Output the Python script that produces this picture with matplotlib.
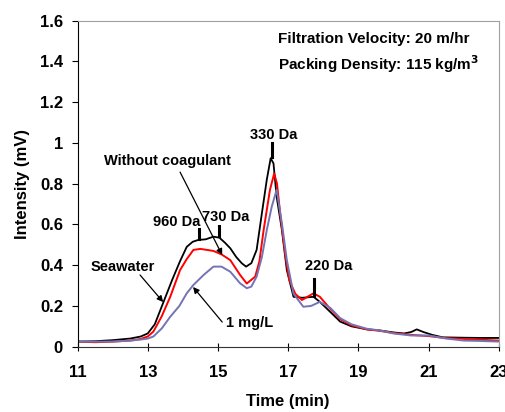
import matplotlib
matplotlib.use("Agg")
import matplotlib.pyplot as plt

plt.rcParams['font.family'] = ['Liberation Sans', 'DejaVu Sans']
plt.rcParams['font.weight'] = 'bold'

# seawater (black)
t_sea = [11, 11.5, 12, 12.5, 12.8, 13.0, 13.2, 13.45, 13.7, 13.92, 14.11, 14.28, 14.44,
         14.65, 14.87, 15.04, 15.2, 15.35, 15.52, 15.68, 15.8, 15.95, 16.1, 16.25, 16.39,
         16.5, 16.58, 16.67, 16.82, 16.96, 17.15, 17.4, 17.72, 17.9, 18.2, 18.48, 18.8,
         19.24, 19.6, 20.0, 20.3, 20.5, 20.66, 20.85, 21.1, 21.4, 22.0, 22.5, 23.0]
v_sea = [0.025, 0.027, 0.032, 0.04, 0.05, 0.065, 0.11, 0.22, 0.33, 0.42, 0.49, 0.515, 0.524,
         0.527, 0.54, 0.535, 0.51, 0.483, 0.44, 0.409, 0.393, 0.41, 0.475, 0.655, 0.82,
         0.925, 0.9, 0.736, 0.573, 0.376, 0.245, 0.24, 0.245, 0.22, 0.17, 0.123, 0.1,
         0.085, 0.08, 0.07, 0.065, 0.072, 0.085, 0.072, 0.058, 0.046, 0.044, 0.043, 0.043]

# without coagulant (red)
t_nocoag = [11, 11.5, 12, 12.5, 12.8, 13.0, 13.16, 13.4, 13.64, 13.92, 14.11, 14.3, 14.5,
            14.87, 15.1, 15.35, 15.63, 15.82, 16.06, 16.18, 16.3, 16.48, 16.6, 16.68, 16.77,
            16.91, 17.03, 17.2, 17.39, 17.55, 17.72, 17.9, 18.2, 18.48, 18.8, 19.24, 19.6,
            20.0, 20.5, 21.0, 21.5, 22.0, 22.5, 23.0]
v_nocoag = [0.025, 0.022, 0.025, 0.03, 0.038, 0.05, 0.074, 0.15, 0.245, 0.376, 0.43, 0.475, 0.48,
            0.47, 0.453, 0.425, 0.352, 0.31, 0.344, 0.42, 0.573, 0.77, 0.85, 0.8, 0.655,
            0.458, 0.327, 0.26, 0.229, 0.245, 0.262, 0.245, 0.185, 0.135, 0.105, 0.085, 0.078,
            0.067, 0.058, 0.052, 0.042, 0.038, 0.034, 0.03]

# 1 mg/L (blue)
t_1mg = [11, 11.5, 12, 12.5, 12.8, 13.0, 13.16, 13.4, 13.64, 13.9, 14.11, 14.3, 14.59,
         14.87, 15.1, 15.35, 15.63, 15.82, 15.95, 16.1, 16.25, 16.39, 16.53, 16.67, 16.82,
         16.96, 17.15, 17.43, 17.65, 17.9, 18.2, 18.48, 18.8, 19.24, 19.6, 20.0, 20.5,
         21.0, 21.5, 22.0, 22.5, 23.0]
v_1mg = [0.025, 0.025, 0.025, 0.03, 0.035, 0.04, 0.05, 0.09, 0.147, 0.2, 0.262, 0.303, 0.352,
         0.393, 0.393, 0.368, 0.311, 0.287, 0.295, 0.344, 0.44, 0.573, 0.687, 0.77, 0.605,
         0.425, 0.26, 0.196, 0.2, 0.22, 0.19, 0.14, 0.11, 0.088, 0.08, 0.065, 0.055,
         0.055, 0.04, 0.03, 0.028, 0.025]

# peak labels: text, marker time, marker bottom, marker top, text x, text y
peak_names = ['960 Da', '730 Da', '330 Da', '220 Da']
peak_t = [14.45, 15.04, 16.53, 17.72]
peak_lo = [0.53, 0.545, 0.93, 0.25]
peak_hi = [0.58, 0.59, 1.0, 0.33]
peak_tx = [13.81, 15.23, 16.6, 18.16]
peak_ty = [0.612, 0.637, 1.04, 0.397]

fig = plt.figure(figsize=(5.05, 4.12), dpi=100)
ax = fig.add_axes([0.1535, 0.1585, 0.8345, 0.7913])

ax.plot(t_sea, v_sea, color='black', lw=1.3)
ax.plot(t_nocoag, v_nocoag, color='#ff0000', lw=1.4)
ax.plot(t_1mg, v_1mg, color='#7474b4', lw=1.4)

fs = 10.5
for i in range(len(peak_names)):
    ax.plot([peak_t[i], peak_t[i]], [peak_lo[i], peak_hi[i]], color='black', lw=2.2)
    ax.text(peak_tx[i], peak_ty[i], peak_names[i], ha='center', va='center',
            fontsize=fs, fontweight='bold')

arrow = dict(arrowstyle='-|>', color='black', lw=0.9, mutation_scale=9, shrinkA=0, shrinkB=0)
ax.text(13.55, 0.91, 'Without coagulant', ha='center', va='center', fontsize=fs, fontweight='bold')
ax.annotate('', xy=(15.12, 0.45), xytext=(13.92, 0.857), arrowprops=arrow)
ax.text(12.30, 0.391, 'Seawater', ha='center', va='center', fontsize=fs, fontweight='bold')
ax.annotate('', xy=(13.44, 0.219), xytext=(12.78, 0.352), arrowprops=arrow)
ax.text(15.89, 0.116, '1 mg/L', ha='center', va='center', fontsize=fs, fontweight='bold')
ax.annotate('', xy=(14.29, 0.293), xytext=(15.12, 0.121), arrowprops=arrow)

ax.text(0.476, 0.944, 'Filtration Velocity: 20 m/hr', transform=ax.transAxes,
        ha='left', va='center', fontsize=11, fontweight='bold')
ax.text(0.476, 0.867, 'Packing Density: 115 kg/m$^{\\mathbf{3}}$', transform=ax.transAxes,
        ha='left', va='center', fontsize=11, fontweight='bold')

ax.set_xlim(11, 23)
ax.set_ylim(0, 1.6)
ax.set_xticks([11, 13, 15, 17, 19, 21, 23])
ax.set_yticks([0, 0.2, 0.4, 0.6, 0.8, 1.0, 1.2, 1.4, 1.6])
ax.set_yticklabels(['0', '0.2', '0.4', '0.6', '0.8', '1', '1.2', '1.4', '1.6'])
ax.tick_params(axis='y', direction='out', length=4.5, width=0.8, pad=6, labelsize=12)
ax.tick_params(axis='x', direction='inout', length=6, width=0.8, pad=10, labelsize=12)
for lab in ax.get_xticklabels() + ax.get_yticklabels():
    lab.set_fontweight('bold')

ax.spines['top'].set_color('#a0a0a0')
ax.spines['right'].set_color('#a0a0a0')
ax.spines['left'].set_color('black')
ax.spines['bottom'].set_color('#333333')

ax.set_xlabel('Time (min)', fontsize=12, fontweight='bold', labelpad=10)
ax.set_ylabel('Intensity (mV)', fontsize=12, fontweight='bold', labelpad=7)

fig.savefig('out.png', dpi=100)
